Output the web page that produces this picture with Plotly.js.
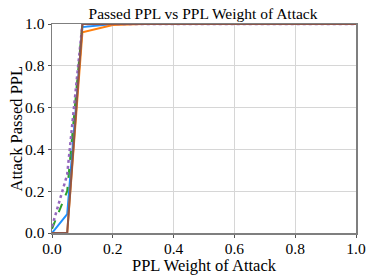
<!DOCTYPE html>
<html><head><meta charset="utf-8">
<script src="https://cdn.plot.ly/plotly-3.0.1.min.js"></script>
<style>html,body{margin:0;padding:0;background:#fff}#c{width:374px;height:280px}</style>
</head><body><div id="c"></div>
<script>
const weights = [0, 0.05, 0.1, 0.2, 0.3, 0.4, 0.5, 0.6, 0.7, 0.8, 0.9, 1.0];
const seriesA = [0, 0.09, 0.985, 1, 1, 1, 1, 1, 1, 1, 1, 1];
const seriesB = [0, 0, 0.96, 0.995, 1, 1, 1, 1, 1, 1, 1, 1];
const seriesC = [0.02, 0.2, 1, 1, 1, 1, 1, 1, 1, 1, 1, 1];
const seriesD = [0.03, 0.28, 1, 1, 1, 1, 1, 1, 1, 1, 1, 1];
const seriesE = [0, 0, 1, 1, 1, 1, 1, 1, 1, 1, 1, 1];
const tickVals = [0, 0.2, 0.4, 0.6, 0.8, 1.0];
const tickText = ['0.0', '0.2', '0.4', '0.6', '0.8', '1.0'];
const titleText = 'Passed PPL vs PPL Weight of Attack';
const xTitle = 'PPL Weight of Attack';
const yTitle = 'Attack Passed PPL';

const F = 'Liberation Serif, Times New Roman, serif';
const mk = (y, color, dash, w) => ({x: weights, y: y, type: 'scatter', mode: 'lines',
  line: {color: color, dash: dash, width: w}, showlegend: false, cliponaxis: false});
const data = [
  mk(seriesA, '#1e90ff', 'solid', 2),
  mk(seriesB, '#ff7f0e', 'solid', 2),
  mk(seriesC, '#2ca02c', 'dash', 2),
  mk(seriesD, '#9467bd', 'dot', 2.5),
  mk(seriesE, '#8c564b', 'solid', 2)
];
const ax = {range: [0, 1], tickvals: tickVals, ticktext: tickText, showgrid: true,
  gridcolor: '#d6d6d6', gridwidth: 1, zeroline: false, showline: true, mirror: true,
  linecolor: '#7f7f7f', linewidth: 1.5, ticks: 'outside', ticklen: 3, tickcolor: '#555',
  tickfont: {family: F, size: 15.5, color: '#000'}, automargin: false};
const layout = {
  width: 374, height: 280,
  margin: {l: 52, r: 18, t: 24, b: 47},
  paper_bgcolor: '#fff', plot_bgcolor: '#fff',
  title: {text: titleText, font: {family: F, size: 15.5, color: '#000'},
    x: 203/374, xanchor: 'center', y: 1 - 14/280, yanchor: 'middle'},
  xaxis: Object.assign({}, ax, {ticklabelstandoff: -2}),
  yaxis: Object.assign({}, ax),
  annotations: [
    {text: xTitle, xref: 'paper', yref: 'paper', x: 0.5, y: -(233 - 233)/209, yshift: -22, xanchor: 'center', yanchor: 'top',
      showarrow: false, font: {family: F, size: 16.5, color: '#000'}, borderpad: 0},
    {text: yTitle, xref: 'paper', yref: 'paper', x: -(52 - 16)/304, y: 0.5, xanchor: 'center', yanchor: 'middle',
      textangle: -90, showarrow: false, font: {family: F, size: 16.5, color: '#000'}}
  ]
};
Plotly.newPlot('c', data, layout, {staticPlot: true, displayModeBar: false});
</script></body></html>
